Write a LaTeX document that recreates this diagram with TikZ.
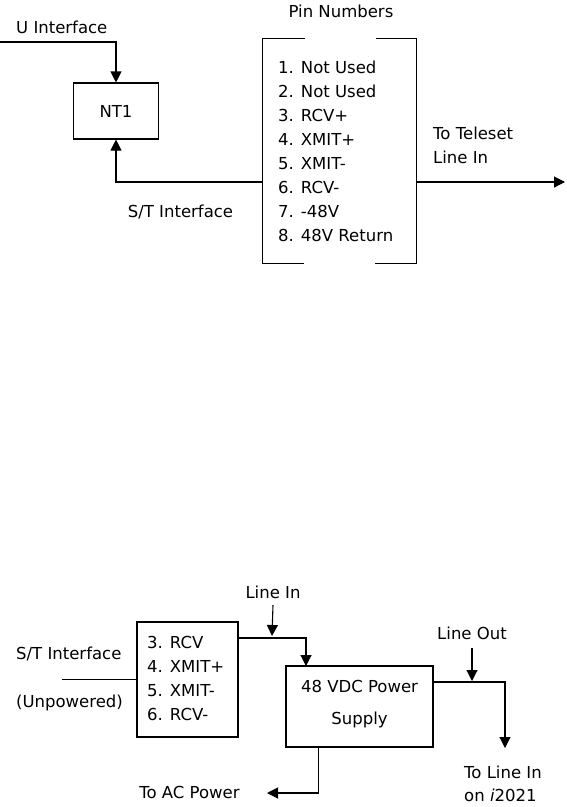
\documentclass[tikz,border=0pt]{standalone}
\usepackage{fontspec}
\setmainfont{DejaVu Sans}
\usetikzlibrary{arrows.meta}
\begin{document}
\begin{tikzpicture}[x=1pt,y=-1pt,
  every node/.style={font=\fontsize{16.5}{20}\selectfont, inner sep=0pt},
  line/.style={line width=1.1pt},
  arr/.style={line width=1.1pt,-{Triangle[length=11pt,width=11pt]}},
  box/.style={draw,line width=1.1pt}]
\useasboundingbox (0,0) rectangle (567,807);
% ---------- top part ----------
\node[box, minimum width=85pt, minimum height=56pt] (nt1) at (116,111) {NT1};
\node[anchor=west] (ulbl) at (16,27) {U Interface};
\coordinate (uin) at (0,42);
\draw[arr] (uin) -| (nt1.north);
\node[minimum width=153pt, minimum height=224pt] (pins) at (339.5,151) {};
\draw[line] ([xshift=42pt]pins.north west) -- (pins.north west) -- (pins.south west) -- ([xshift=41pt]pins.south west);
\draw[line] ([xshift=-40pt]pins.north east) -- (pins.north east) -- (pins.south east) -- ([xshift=-41pt]pins.south east);
\node (pinlbl) at (341,11) {Pin Numbers};
\node[anchor=west, align=left, font=\fontsize{16.5}{24}\selectfont] (plist) at (278,151)
  {1. Not Used\\2. Not Used\\3. RCV+\\4. XMIT+\\5. XMIT-\\6. RCV-\\7. -48V\\8. 48V Return};
\coordinate (stjoin) at (263,182);
\draw[arr] (stjoin) -| (nt1.south);
\node (stlbl) at (180.5,212) {S/T Interface};
\coordinate (tel) at (565,182);
\draw[arr] (stjoin -| pins.east) -- (tel);
\node[anchor=west, align=left, font=\fontsize{16.5}{24}\selectfont] (tellbl) at (433,145) {To Teleset\\Line In};
% ---------- bottom part ----------
\node[box, minimum width=101pt, minimum height=115pt] (pins2) at (187.5,679.5) {};
\node[anchor=west, align=left, font=\fontsize{16.5}{24.3}\selectfont] (p2list) at (147,678.5)
  {3. RCV\\4. XMIT+\\5. XMIT-\\6. RCV-};
\coordinate (stin) at (62,679.5);
\draw[line] (stin) -- (pins2.west);
\node[anchor=west] (st2lbl) at (16,654) {S/T Interface};
\node[anchor=west] (unplbl) at (16,703) {(Unpowered)};
\node[box, minimum width=147pt, minimum height=81pt] (ps) at (359.5,706.5) {};
\node[align=center, font=\fontsize{16.5}{32}\selectfont] (pstext) at (359.5,704) {48 VDC Power\\Supply};
\coordinate (p2out) at (238,638);
\coordinate (psin) at (306,666);
\draw[arr] (p2out) -| (psin);
\node (linein) at (273,592) {Line In};
\coordinate (li2) at (272,636);
\draw[arr] (linein.south |- 0,605) -- (li2);
\coordinate (psout) at (433,682);
\coordinate (lo) at (505,748);
\draw[arr] (psout) -| (lo);
\node (lineout) at (472,633) {Line Out};
\coordinate (lo2) at (472,681);
\draw[arr] (lineout.south |- 0,648) -- (lo2);
\node[anchor=west, align=left, font=\fontsize{16.5}{23}\selectfont] (tolinein) at (464,783.5) {To Line In\\on \textit{i}2021};
\coordinate (actip) at (267,793);
\draw[arr] ([xshift=33pt]ps.south west) |- (actip);
\node (aclbl) at (189.5,792) {To AC Power};
\end{tikzpicture}
\end{document}
